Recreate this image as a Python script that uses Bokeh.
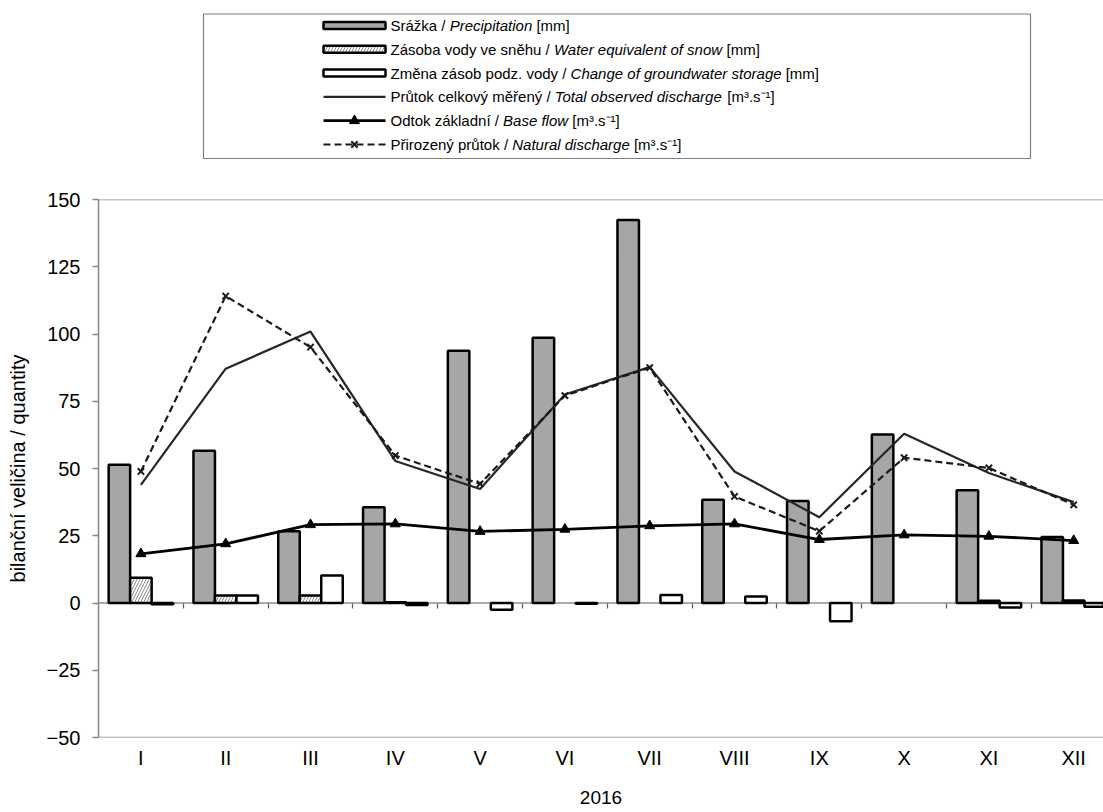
import numpy as np
from bokeh.plotting import figure
from bokeh.models import ColumnDataSource, Range1d, LinearAxis, FixedTicker, Span, CDSView, BooleanFilter
from bokeh.layouts import column
from bokeh.embed import file_html
from bokeh.resources import INLINE
from bokeh.core.properties import value

# ---------------- data ----------------
months = ["I", "II", "III", "IV", "V", "VI", "VII", "VIII", "IX", "X", "XI", "XII"]
precipitation = [51.4, 56.6, 26.7, 35.6, 93.8, 98.6, 142.4, 38.4, 37.9, 62.6, 41.9, 24.5]
snow_water = [9.4, 2.8, 2.8, 0.3, 0, 0, 0, 0, 0, 0, 0.8, 0.9]
groundwater_change = [-0.5, 2.8, 10.2, -0.7, -2.5, -0.3, 3.0, 2.4, -6.8, 0, -1.7, -1.4]
total_discharge = [43.9, 87.1, 100.9, 52.8, 42.4, 77.5, 87.7, 48.9, 31.9, 62.9, 48.3, 37.5]
base_flow = [18.3, 22.0, 29.1, 29.4, 26.6, 27.4, 28.7, 29.4, 23.6, 25.3, 24.8, 23.2]
natural_discharge = [48.9, 114.1, 95.1, 54.8, 44.3, 77.1, 87.5, 39.6, 26.7, 54.0, 50.2, 36.5]
y_ticks = [-50, -25, 0, 25, 50, 75, 100, 125, 150]
x_title = "2016"
y_title = "bilanční veličina / quantity"

legend_rows = [
    ("Srážka / ", "Precipitation", " [mm]"),
    ("Zásoba vody ve sněhu / ", "Water equivalent of snow", " [mm]"),
    ("Změna zásob podz. vody / ", "Change of groundwater storage", " [mm]"),
    ("Průtok celkový měřený / ", "Total observed discharge", " [m³.s⁻¹]"),
    ("Odtok základní / ", "Base flow", " [m³.s⁻¹]"),
    ("Přirozený průtok / ", "Natural discharge", " [m³.s⁻¹]"),
]

FONT = "Liberation Sans"
PRECIP_FILL = "#a6a6a6"
HATCH_COLOR = "#8c8c8c"
AXIS_GREY = "#868686"

TOTAL_W = 1103
LEFT = 98
LEG_H = 188

# ---------------- main plot ----------------
n = len(months)
xs = np.arange(1, n + 1)
bw = 0.2535
px_per_cat = 84.8

src = ColumnDataSource(dict(
    x=xs, xp=xs - bw, xs_=xs, xg=xs + bw,
    precip=precipitation, snow=snow_water, gw=groundwater_change,
    total=total_discharge, base=base_flow, natural=natural_discharge,
))
snow_view = CDSView(filter=BooleanFilter([v != 0 for v in snow_water]))
gw_view = CDSView(filter=BooleanFilter([v != 0 for v in groundwater_change]))

x_end = 0.5 + (TOTAL_W - LEFT) / px_per_cat
p = figure(width=TOTAL_W, height=624, x_range=Range1d(0.5, x_end), y_range=Range1d(-50, 150),
           output_backend="svg", toolbar_location=None,
           min_border_left=LEFT, min_border_right=0, min_border_top=11, min_border_bottom=75)
p.outline_line_color = None
p.grid.visible = False
p.background_fill_color = "white"

p.add_layout(Span(location=0, dimension="width", line_color="#595959", line_width=1.2, level="underlay"))
p.add_layout(Span(location=150, dimension="width", line_color=AXIS_GREY, line_width=1.5))
p.add_layout(Span(location=-50, dimension="width", line_color=AXIS_GREY, line_width=1.5))

p.vbar(x="xp", top="precip", bottom=0, width=bw, source=src,
       fill_color=PRECIP_FILL, line_color="black", line_width=2.5)
p.vbar(x="xs_", top="snow", bottom=0, width=bw, source=src, view=snow_view,
       fill_color="white", hatch_pattern="/", hatch_color=HATCH_COLOR, hatch_scale=6, hatch_weight=1,
       line_color="black", line_width=2.5)
p.vbar(x="xg", top="gw", bottom=0, width=bw, source=src, view=gw_view,
       fill_color="white", line_color="black", line_width=2.5)

p.line("x", "total", source=src, line_color="#262626", line_width=2.2)
p.line("x", "base", source=src, line_color="black", line_width=2.8)
p.scatter("x", "base", source=src, marker="triangle", size=10, fill_color="black", line_color="black")
p.line("x", "natural", source=src, line_color="#1a1a1a", line_width=2.2, line_dash="7 4")
p.scatter("x", "natural", source=src, marker="x", size=9, line_color="#1a1a1a", line_width=2)

# y axis
ya = p.yaxis[0]
ya.ticker = FixedTicker(ticks=y_ticks)
ya.axis_line_color = AXIS_GREY
ya.axis_line_width = 1.5
ya.major_tick_line_color = AXIS_GREY
ya.major_tick_line_width = 1.5
ya.major_tick_out = 6
ya.major_tick_in = 0
ya.minor_tick_line_color = None
ya.major_label_text_font = FONT
ya.major_label_text_font_size = "20px"
ya.major_label_text_color = "black"
ya.major_label_standoff = 12
ya.axis_label = y_title
ya.axis_label_text_font = FONT
ya.axis_label_text_font_size = "20px"
ya.axis_label_text_font_style = "normal"
ya.axis_label_text_color = "black"
ya.axis_label_standoff = 15

# x axis (labels only, at the bottom)
xa = p.xaxis[0]
xa.ticker = FixedTicker(ticks=[int(v) for v in xs])
xa.major_label_overrides = {int(v): m for v, m in zip(xs, months)}
xa.axis_line_color = None
xa.major_tick_line_color = None
xa.minor_tick_line_color = None
xa.major_label_text_font = FONT
xa.major_label_text_font_size = "20px"
xa.major_label_text_color = "black"
xa.major_label_standoff = 3
xa.axis_label = x_title
xa.axis_label_text_font = FONT
xa.axis_label_text_font_size = "19px"
xa.axis_label_text_font_style = "normal"
xa.axis_label_text_color = "black"
xa.axis_label_standoff = 19

# tick marks on the zero line between categories
zero_axis = LinearAxis(fixed_location=0, ticker=FixedTicker(ticks=[float(v) + 0.5 for v in xs[:-1]]),
                       axis_line_color=None, major_tick_line_color="#595959", major_tick_line_width=1.2,
                       major_tick_out=5, major_tick_in=0, minor_tick_line_color=None,
                       major_label_text_font_size="0px", major_label_text_alpha=0)
p.add_layout(zero_axis, "below")

# ---------------- legend (own figure, page pixel coordinates) ----------------
W = {' ': 278, '/': 278, '.': 278, '[': 278, ']': 278,
     'a': 556, 'b': 556, 'c': 500, 'd': 556, 'e': 556, 'f': 278, 'g': 556, 'h': 556, 'i': 222,
     'j': 222, 'k': 500, 'l': 222, 'm': 833, 'n': 556, 'o': 556, 'p': 556, 'q': 556, 'r': 333,
     's': 500, 't': 278, 'u': 556, 'v': 500, 'w': 722, 'x': 500, 'y': 500, 'z': 500,
     'A': 667, 'B': 667, 'C': 722, 'D': 722, 'E': 667, 'F': 611, 'G': 778, 'H': 722, 'I': 278,
     'N': 722, 'O': 778, 'P': 667, 'R': 722, 'S': 667, 'T': 611, 'W': 944, 'Z': 611,
     'á': 556, 'ž': 500, 'ě': 556, 'ů': 556, 'ý': 500, 'ř': 333, 'í': 278, 'č': 500, 'Ř': 722}
FS = 15


def tw(s):
    return sum(W.get(c, 556) for c in s) * FS / 1000.0


lg = figure(width=TOTAL_W, height=LEG_H, x_range=Range1d(LEFT, TOTAL_W), y_range=Range1d(LEG_H, 0),
            output_backend="svg", toolbar_location=None,
            min_border_left=LEFT, min_border_right=0, min_border_top=0, min_border_bottom=0)
lg.axis.visible = False
lg.grid.visible = False
lg.outline_line_color = None

lg.quad(left=[203], right=[1030], top=[13.5], bottom=[158], fill_color=None,
        line_color="#7f7f7f", line_width=1.2)

row_y = [25 + 23.8 * i for i in range(len(legend_rows))]
s_l, s_r = 323, 385
s_c = (s_l + s_r) / 2
hh = 3.5
lg.quad(left=[s_l], right=[s_r], top=[row_y[0] - hh], bottom=[row_y[0] + hh],
        fill_color=PRECIP_FILL, line_color="black", line_width=2.5)
lg.quad(left=[s_l], right=[s_r], top=[row_y[1] - hh], bottom=[row_y[1] + hh],
        fill_color="white", hatch_pattern="/", hatch_color=HATCH_COLOR, hatch_scale=6, hatch_weight=1,
        line_color="black", line_width=2.5)
lg.quad(left=[s_l], right=[s_r], top=[row_y[2] - hh], bottom=[row_y[2] + hh],
        fill_color="white", line_color="black", line_width=2.5)
lg.line([s_l, s_r], [row_y[3], row_y[3]], line_color="#262626", line_width=2.2)
lg.line([s_l, s_r], [row_y[4], row_y[4]], line_color="black", line_width=2.8)
lg.scatter([s_c], [row_y[4]], marker="triangle", size=10, fill_color="black", line_color="black")
lg.line([s_l, s_r], [row_y[5], row_y[5]], line_color="#1a1a1a", line_width=2.2, line_dash="7 4")
lg.scatter([s_c], [row_y[5]], marker="x", size=9, line_color="#1a1a1a", line_width=2)

tx0 = 390
nx, ny, nt, ix, iy, it, sx, sy, st = [], [], [], [], [], [], [], [], []
for (a, b, c), y in zip(legend_rows, row_y):
    nx.append(tx0); ny.append(y); nt.append(a.rstrip())
    ix.append(tx0 + tw(a)); iy.append(y); it.append(b)
    sx.append(tx0 + tw(a) + tw(b) + tw(" ")); sy.append(y); st.append(c.strip())

for X, Y, T, style in ((nx, ny, nt, "normal"), (ix, iy, it, "italic"), (sx, sy, st, "normal")):
    lg.text(x=X, y=Y, text=T, text_font=value(FONT), text_font_size=value(f"{FS}px"),
            text_font_style=style, text_baseline="middle", text_align="left", text_color="black")

layout = column(lg, p)
open("out.html", "w").write(file_html(layout, INLINE))
